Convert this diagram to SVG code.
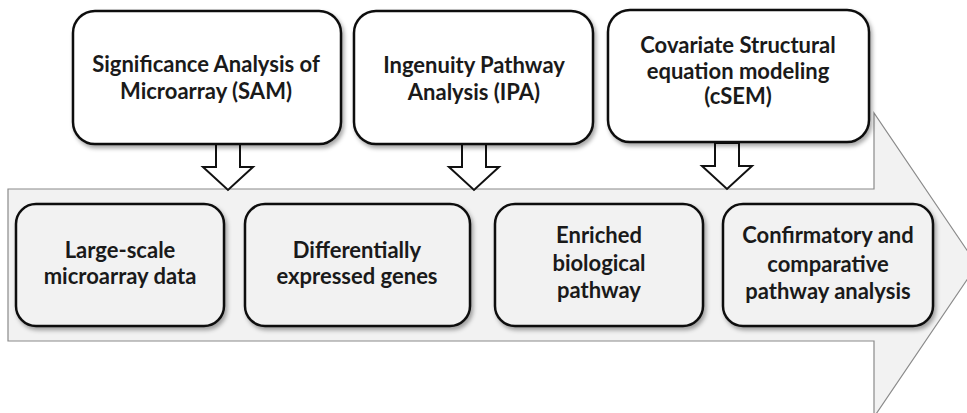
<svg xmlns="http://www.w3.org/2000/svg" width="967" height="413" viewBox="0 0 967 413">
<style>
.box{stroke:#111;stroke-width:2.5;}
.top{fill:#fff;}
.bot{fill:#f2f2f2;}
.lbl{font-family:Lato,"Liberation Sans",sans-serif;font-weight:bold;font-size:22px;fill:#1a1a1a;text-anchor:middle;}
.harrow{fill:#fff;stroke:#111;stroke-width:2;stroke-linejoin:miter;}
</style>
<defs>
<filter id="sh" x="-10%" y="-10%" width="130%" height="130%">
<feDropShadow dx="2" dy="3" stdDeviation="2" flood-color="#000" flood-opacity="0.35"/>
</filter>
</defs>
<rect width="967" height="413" fill="#fff"/>
<g id="flow-arrow">
<path d="M8,189 H874 V113 L977,265 L874,417 V341 H8 Z" fill="#f2f2f2" stroke="#8a8a8a" stroke-width="1.2"/>
</g>
<g id="connectors">
<path class="harrow" d="M216,144 V167 H203 L228,190 L253,167 H240 V144 Z"/>
<path class="harrow" d="M462,144 V167 H449 L474,190 L499,167 H486 V144 Z"/>
<path class="harrow" d="M715,143 V166 H702 L727,189 L752,166 H739 V143 Z"/>
</g>
<g id="sam">
<rect class="box top" x="73" y="11" width="268" height="133" rx="22" filter="url(#sh)"/>
<text class="lbl" x="206" y="72">Significance Analysis of</text>
<text class="lbl" x="206" y="99">Microarray (SAM)</text>
</g>
<g id="ipa">
<rect class="box top" x="354" y="11" width="239" height="133" rx="22" filter="url(#sh)"/>
<text class="lbl" x="474" y="73">Ingenuity Pathway</text>
<text class="lbl" x="474" y="100">Analysis (IPA)</text>
</g>
<g id="csem">
<rect class="box top" x="608" y="10" width="261" height="132" rx="22" filter="url(#sh)"/>
<text class="lbl" x="738" y="53">Covariate Structural</text>
<text class="lbl" x="738" y="79">equation modeling</text>
<text class="lbl" x="738" y="104">(cSEM)</text>
</g>
<g id="data">
<rect class="box bot" x="16" y="204" width="208" height="122" rx="20" filter="url(#sh)"/>
<text class="lbl" x="120" y="258">Large-scale</text>
<text class="lbl" x="120" y="284">microarray data</text>
</g>
<g id="genes">
<rect class="box bot" x="245" y="204" width="225" height="122" rx="20" filter="url(#sh)"/>
<text class="lbl" x="357" y="258">Differentially</text>
<text class="lbl" x="357" y="284">expressed genes</text>
</g>
<g id="pathway">
<rect class="box bot" x="495" y="204" width="208" height="122" rx="20" filter="url(#sh)"/>
<text class="lbl" x="599" y="243">Enriched</text>
<text class="lbl" x="599" y="271">biological</text>
<text class="lbl" x="599" y="298">pathway</text>
</g>
<g id="confirm">
<rect class="box bot" x="723" y="204" width="210" height="122" rx="20" filter="url(#sh)"/>
<text class="lbl" x="828" y="243">Confirmatory and</text>
<text class="lbl" x="828" y="272">comparative</text>
<text class="lbl" x="828" y="299">pathway analysis</text>
</g>
</svg>
